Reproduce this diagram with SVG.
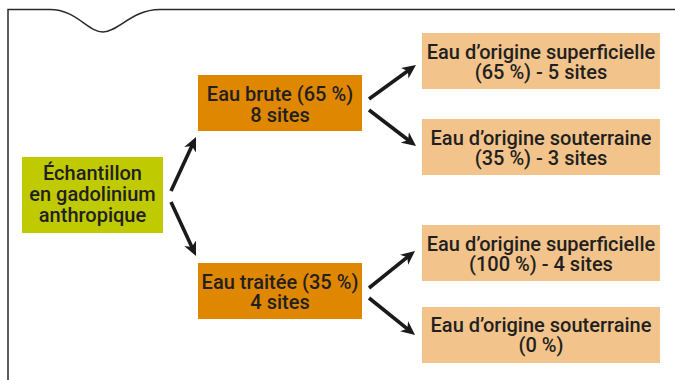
<svg xmlns="http://www.w3.org/2000/svg" width="675" height="380" viewBox="0 0 675 380">
<style>
text{font-family:Roboto,"Liberation Sans",Arial,sans-serif;font-weight:500;font-size:20px;fill:#231f20;text-anchor:middle}
.green{fill:#bfcb00}
.orange{fill:#e08700}
.light{fill:#f2c48b}
.arrow{stroke:#1a1a1a;stroke-width:3.6;fill:none;marker-end:url(#ah)}
</style>
<defs>
<marker id="ah" markerUnits="userSpaceOnUse" markerWidth="14" markerHeight="14" viewBox="0 0 14 14" refX="5" refY="7" orient="auto">
<path d="M0,0.5 L14,7 L0,13.5 L4,7 z" fill="#1a1a1a"/>
</marker>
</defs>
<path d="M8,380 V9.5 H50 C76,9.5 88,32 103,32 C118,32 132,9.5 160,9.5 H675" fill="none" stroke="#2a2a2a" stroke-width="1.5"/>
<g id="connectors">
<line class="arrow" x1="171" y1="191" x2="192.2" y2="145.2"/>
<line class="arrow" x1="171" y1="202" x2="192.2" y2="247.8"/>
<line class="arrow" x1="369" y1="99" x2="408.7" y2="70.3"/>
<line class="arrow" x1="369" y1="110" x2="408.9" y2="140.5"/>
<line class="arrow" x1="369" y1="288" x2="408" y2="256.6"/>
<line class="arrow" x1="369" y1="298" x2="408" y2="329.4"/>
</g>
<g id="echantillon">
<rect class="green" x="22" y="157" width="141" height="76"/>
<text x="92.5" y="180">Échantillon</text>
<text x="92.5" y="201">en gadolinium</text>
<text x="92.5" y="222">anthropique</text>
</g>
<g id="eau-brute">
<rect class="orange" x="198" y="75" width="164" height="56"/>
<text x="280" y="101">Eau brute (65 %)</text>
<text x="280" y="121.5">8 sites</text>
</g>
<g id="eau-traitee">
<rect class="orange" x="198" y="263" width="164" height="56"/>
<text x="280" y="289">Eau traitée (35 %)</text>
<text x="280" y="309">4 sites</text>
</g>
<g id="brute-superficielle">
<rect class="light" x="422" y="33" width="238" height="56"/>
<text x="541" y="59">Eau d’origine superficielle</text>
<text x="541" y="79">(65 %) - 5 sites</text>
</g>
<g id="brute-souterraine">
<rect class="light" x="422" y="119" width="238" height="56"/>
<text x="541" y="145">Eau d’origine souterraine</text>
<text x="541" y="165">(35 %) - 3 sites</text>
</g>
<g id="traitee-superficielle">
<rect class="light" x="422" y="225" width="238" height="56"/>
<text x="541" y="250.5">Eau d’origine superficielle</text>
<text x="541" y="270.5">(100 %) - 4 sites</text>
</g>
<g id="traitee-souterraine">
<rect class="light" x="422" y="307" width="238" height="56"/>
<text x="541" y="332">Eau d’origine souterraine</text>
<text x="541" y="352">(0 %)</text>
</g>
</svg>
